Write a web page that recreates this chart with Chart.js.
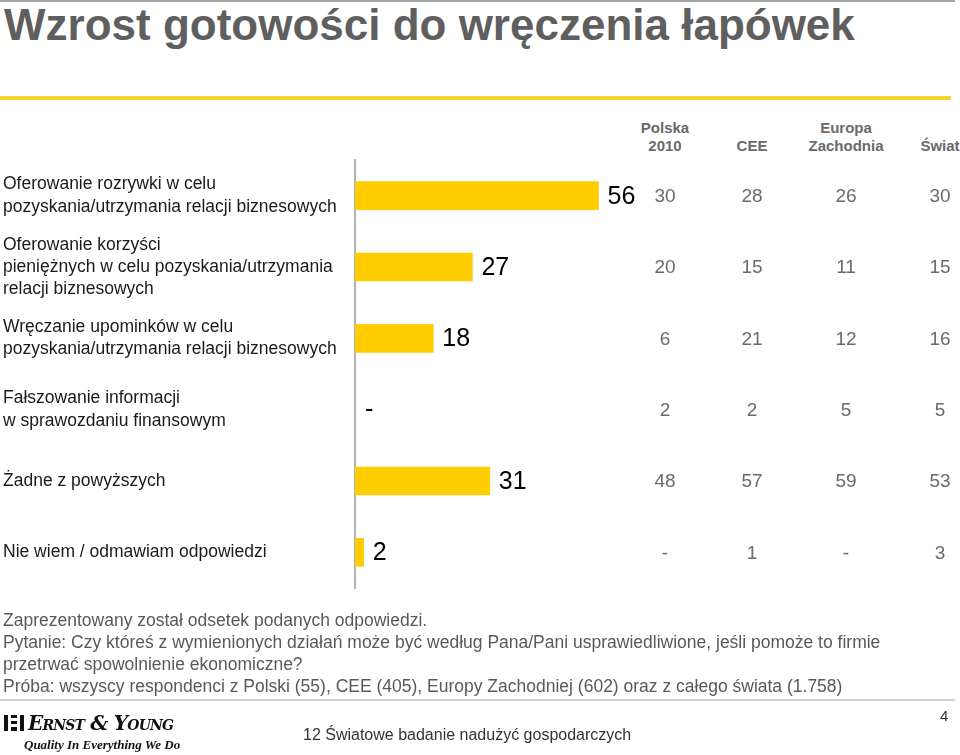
<!DOCTYPE html>
<html>
<head>
<meta charset="utf-8">
<script src="https://cdn.jsdelivr.net/npm/chart.js@4"></script>
<style>
  html,body{margin:0;padding:0;background:#fff;}
  body{width:960px;height:755px;position:relative;overflow:hidden;font-family:"Liberation Sans",Arial,sans-serif;}
  .abs{position:absolute;white-space:nowrap;}
  #topline{position:absolute;left:0;top:0;width:955px;height:2px;background:#a6a6a6;}
  #title{left:4px;top:0px;font-size:44px;font-weight:bold;color:#5f5f5f;line-height:50px;}
  #yline{position:absolute;left:0;top:96px;width:951px;height:4px;background:#F5D42C;}
  .hdr{font-size:15px;font-weight:bold;color:#6a6a6a;text-align:center;line-height:18px;transform:translateX(-50%);}
  #chartWrap{position:absolute;left:0;top:0;width:960px;height:755px;}
  #notes{left:3px;top:609px;font-size:17.5px;color:#595959;line-height:22px;}
  #botline{position:absolute;left:0;top:699px;width:955px;height:2px;background:#cfcfcf;}
  #logo{left:4px;top:711px;font-family:"DejaVu Serif","Liberation Serif",serif;font-style:italic;font-weight:bold;font-size:20px;color:#111;font-variant:small-caps;letter-spacing:-0.8px;line-height:24px;}
  #logo .mk{display:inline-block;width:20px;height:16px;border-left:4px solid #111;border-right:4px solid #111;box-sizing:border-box;margin-right:4px;vertical-align:-1px;background:linear-gradient(#111 0 3px,transparent 3px 6px,#111 6px 9px,transparent 9px 12px,#111 12px 16px);background-size:6px 16px;background-repeat:no-repeat;background-position:3px 0;}
  #tag{left:24px;top:737px;font-family:"Liberation Serif",serif;font-style:italic;font-weight:bold;font-size:13px;color:#111;}
  #foot{left:303px;top:726px;font-size:16px;color:#333;}
  #pg{left:940px;top:707px;font-size:15px;color:#333;}
</style>
</head>
<body>
<div id="topline"></div>
<div class="abs" id="title">Wzrost gotowości do wręczenia łapówek</div>
<div id="yline"></div>
<div class="abs hdr" style="left:665px;top:119px;">Polska<br>2010</div>
<div class="abs hdr" style="left:752px;top:137px;">CEE</div>
<div class="abs hdr" style="left:846px;top:119px;">Europa<br>Zachodnia</div>
<div class="abs hdr" style="left:940px;top:137px;">Świat</div>
<div id="chartWrap"><canvas id="c" width="960" height="755"></canvas></div>
<div class="abs" id="notes">Zaprezentowany został odsetek podanych odpowiedzi.<br>Pytanie: Czy któreś z wymienionych działań może być według Pana/Pani usprawiedliwione, jeśli pomoże to firmie<br>przetrwać spowolnienie ekonomiczne?<br>Próba: wszyscy respondenci z Polski (55), CEE (405), Europy Zachodniej (602) oraz z całego świata (1.758)</div>
<div id="botline"></div>
<div class="abs" id="logo"><span class="mk"></span>Ernst &amp; Young</div>
<div class="abs" id="tag">Quality In Everything We Do</div>
<div class="abs" id="foot">12 Światowe badanie nadużyć gospodarczych</div>
<div class="abs" id="pg">4</div>
<script>
const categories = [
  ["Oferowanie rozrywki w celu", "pozyskania/utrzymania relacji biznesowych"],
  ["Oferowanie korzyści", "pieniężnych w celu pozyskania/utrzymania", "relacji biznesowych"],
  ["Wręczanie upominków w celu", "pozyskania/utrzymania relacji biznesowych"],
  ["Fałszowanie informacji", "w sprawozdaniu finansowym"],
  ["Żadne z powyższych"],
  ["Nie wiem / odmawiam odpowiedzi"]
];
const polskaCurrent = [56, 27, 18, null, 31, 2];
const polska2010 = [30, 20, 6, 2, 48, null];
const cee = [28, 15, 21, 2, 57, 1];
const europaZachodnia = [26, 11, 12, 5, 59, null];
const swiat = [30, 15, 16, 5, 53, 3];
const compareColumns = [polska2010, cee, europaZachodnia, swiat];
const columnCenters = [665, 752, 846, 940];

const labelPlugin = {
  id: 'labels',
  afterDatasetsDraw(chart) {
    const ctx = chart.ctx;
    const meta = chart.getDatasetMeta(0);
    const xs = chart.scales.x, ys = chart.scales.y;
    ctx.save();
    ctx.textBaseline = 'middle';
    ctx.font = '25px "Liberation Sans", Arial, sans-serif';
    ctx.fillStyle = '#000';
    ctx.textAlign = 'left';
    polskaCurrent.forEach((v, i) => {
      const y = ys.getPixelForValue(i);
      if (v === null) {
        ctx.fillText('-', xs.getPixelForValue(0) + 10, y);
      } else {
        const bar = meta.data[i];
        ctx.fillText(String(v), bar.x + 9, y + 1);
      }
    });
    ctx.font = '19px "Liberation Sans", Arial, sans-serif';
    ctx.fillStyle = '#6a6a6a';
    ctx.textAlign = 'center';
    compareColumns.forEach((col, c) => {
      col.forEach((v, i) => {
        const y = ys.getPixelForValue(i) + 1;
        ctx.fillText(v === null ? '-' : String(v), columnCenters[c], y);
      });
    });
    ctx.restore();
  }
};

new Chart(document.getElementById('c'), {
  type: 'bar',
  data: {
    labels: categories,
    datasets: [{
      data: polskaCurrent,
      backgroundColor: '#FFCD00',
      borderWidth: 0,
      barThickness: 28
    }]
  },
  options: {
    indexAxis: 'y',
    responsive: false,
    animation: false,
    events: [],
    layout: { padding: { left: 3, top: 160, bottom: 167, right: 5 } },
    plugins: { legend: { display: false }, tooltip: { enabled: false } },
    scales: {
      x: { display: false, min: 0, max: 138 },
      y: {
        grid: { display: false, drawTicks: false },
        border: { display: true, color: '#b3b3b3', width: 2 },
        ticks: {
          crossAlign: 'far',
          color: '#1a1a1a',
          font: { family: '"Liberation Sans", Arial, sans-serif', size: 17.5, lineHeight: 1.26 },
          padding: 0
        },
        afterFit(scale) { scale.width = 352; }
      }
    }
  },
  plugins: [labelPlugin]
});
</script>
</body>
</html>
